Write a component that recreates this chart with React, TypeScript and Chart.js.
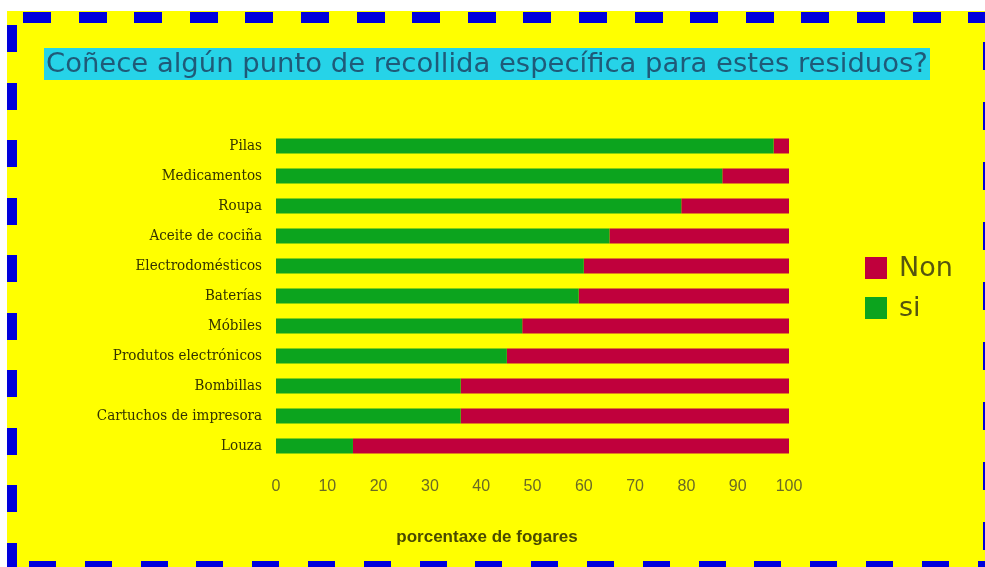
import React, { useEffect, useRef } from "react";
import { Chart, registerables } from "chart.js";

Chart.register(...registerables);

const titleText = "Coñece algún punto de recollida específica para estes residuos?";
const axisTitle = "porcentaxe de fogares";
const categories = [
  "Pilas",
  "Medicamentos",
  "Roupa",
  "Aceite de cociña",
  "Electrodomésticos",
  "Baterías",
  "Móbiles",
  "Produtos electrónicos",
  "Bombillas",
  "Cartuchos de impresora",
  "Louza",
];
const siValues = [97, 87, 79, 65, 60, 59, 48, 45, 36, 36, 15];
const nonValues = [3, 13, 21, 35, 40, 41, 52, 55, 64, 64, 85];
const seriesNames = ["si", "Non"];

const GREEN = "#0ca41e";
const RED = "#c0003c";
const YELLOW = "#ffff00";
const BLUE = "#0000dc";

const W = 985;
const H = 567;

const decorPlugin = {
  id: "decor",
  beforeDraw(chart: any) {
    const ctx = chart.ctx;
    ctx.save();
    ctx.fillStyle = "#ffffff";
    ctx.fillRect(0, 0, W, H);
    ctx.fillStyle = YELLOW;
    ctx.fillRect(7, 11, W - 7, H - 11);
    // dashed border
    ctx.fillStyle = BLUE;
    for (let x = 23; x < W; x += 55.6) ctx.fillRect(Math.round(x), 12, 28, 11);
    for (let x = 29; x < W; x += 55.8) ctx.fillRect(Math.round(x), 561, 27, 11);
    for (let y = 25; y < H; y += 57.5) ctx.fillRect(7, Math.round(y), 10, 27);
    for (let y = 42; y < H; y += 60) ctx.fillRect(983, Math.round(y), 11, 28);
    // title
    ctx.font = "24px 'DejaVu Sans'";
    const tw = ctx.measureText(titleText).width;
    const size = 24 * (882 / tw);
    ctx.font = `${size}px 'DejaVu Sans'`;
    ctx.fillStyle = "#26d3e8";
    ctx.fillRect(44, 48, 886, 32);
    ctx.fillStyle = "#1f5a78";
    ctx.textBaseline = "middle";
    ctx.textAlign = "left";
    ctx.fillText(titleText, 46, 65);
    ctx.restore();
  },
  afterDraw(chart: any) {
    const ctx = chart.ctx;
    ctx.save();
    // axis title
    ctx.font = "bold 17px 'Liberation Sans'";
    ctx.fillStyle = "#4a4a00";
    ctx.textAlign = "center";
    ctx.textBaseline = "middle";
    ctx.fillText(axisTitle, 487, 537);
    // legend (Non first, then si)
    const items = [
      { label: seriesNames[1], color: RED },
      { label: seriesNames[0], color: GREEN },
    ];
    ctx.font = "27px 'DejaVu Sans'";
    ctx.textAlign = "left";
    items.forEach((it, i) => {
      const cy = 268 + i * 40;
      ctx.fillStyle = it.color;
      ctx.fillRect(865, cy - 11, 22, 22);
      ctx.fillStyle = "#55550f";
      ctx.fillText(it.label, 899, cy + 1);
    });
    ctx.restore();
  },
};

export default function App() {
  const ref = useRef<HTMLCanvasElement>(null);
  useEffect(() => {
    if (!ref.current) return;
    const chart = new Chart(ref.current, {
      type: "bar",
      data: {
        labels: categories,
        datasets: [
          {
            label: seriesNames[0],
            data: siValues,
            backgroundColor: GREEN,
            barPercentage: 0.5,
            categoryPercentage: 1,
          },
          {
            label: seriesNames[1],
            data: nonValues,
            backgroundColor: RED,
            barPercentage: 0.5,
            categoryPercentage: 1,
          },
        ],
      },
      options: {
        indexAxis: "y",
        responsive: false,
        animation: false,
        devicePixelRatio: 1,
        layout: { padding: { left: 0, top: 131, right: 196, bottom: 66 } },
        plugins: {
          legend: { display: false },
          tooltip: { enabled: false },
          title: { display: false },
        },
        scales: {
          x: {
            stacked: true,
            min: 0,
            max: 100,
            ticks: {
              stepSize: 10,
              padding: 16,
              color: "#6a6a25",
              font: { family: "'Liberation Sans'", size: 16 },
            },
            grid: { display: false, drawTicks: false },
            border: { display: false },
            afterFit: (s: any) => {
              s.height = 40;
            },
          },
          y: {
            stacked: true,
            ticks: {
              padding: 14,
              color: "#333300",
              font: { family: "'DejaVu Serif Condensed', 'DejaVu Serif'", size: 15 },
            },
            grid: { display: false, drawTicks: false },
            border: { display: false },
            afterFit: (s: any) => {
              s.width = 276;
            },
          },
        },
      },
      plugins: [decorPlugin],
    });
    return () => chart.destroy();
  }, []);
  return (
    <div style={{ position: "fixed", left: 0, top: 0, width: W, height: H }}>
      <canvas ref={ref} width={W} height={H} style={{ width: W, height: H, display: "block" }} />
    </div>
  );
}
